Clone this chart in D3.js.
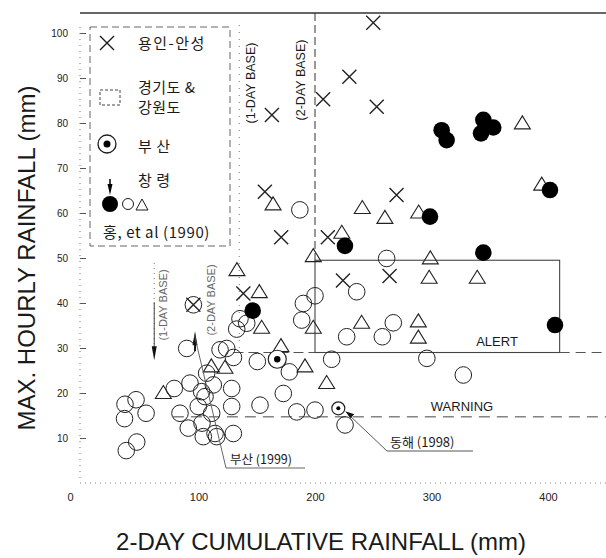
<!DOCTYPE html>
<html><head><meta charset="utf-8">
<script src="https://cdn.jsdelivr.net/npm/d3@7"></script>
<style>body{margin:0;background:#fff}svg{display:block}</style>
</head><body>
<svg id="c" width="606" height="558"></svg>
<script>
// ---- data (x = 2-day cumulative rainfall mm, y = max hourly rainfall mm) ----
const xTicks = [0, 100, 200, 300, 400];
const yTicks = [10, 20, 30, 40, 50, 60, 70, 80, 90, 100];

const crosses = [[250,102.3],[229.5,90.3],[207,85.3],[253,83.6],[163,81.8],[157,64.7],[171,54.6],[211,54.6],[270,64],[224,45],[264,46],[138.5,42.1],[95.6,39.6]];
const filledCircles = [[308.7,78.4],[313,76.2],[344.5,80.7],[353,79],[342.5,77.7],[401.7,65.1],[298.7,59.2],[225.7,52.7],[344.5,51.2],[406,35.1],[146.5,38.3]];
const triangles = [[378,79.8],[394.6,66.2],[164,61.8],[240.6,61],[260,58.8],[289,60],[223,55.5],[198.5,50.3],[299,49.8],[298,45.5],[339.3,45.5],[133,47.2],[152.2,42.3],[154.2,34.4],[198.5,34.4],[240,35.5],[288.7,35.8],[288.7,32.2],[170.8,30.3],[191.4,25.8],[210,22.1],[69.8,19.9],[111,25.8],[122.7,25.5]];
const openCircles = [[187,60.7],[261.5,49.9],[235.8,42.5],[200,41.6],[190,39.9],[188.6,36.2],[141.4,35.5],[132.8,34.2],[135.6,36.5],[227.2,32.5],[257.8,32.5],[267.2,35.6],[124.2,29.9],[130,27.9],[150.5,27],[178,24.7],[214.3,27.5],[296,27.7],[327.3,24],[172.8,19.9],[152.8,17.3],[128.5,21],[128.5,17],[184.3,15.8],[200,16.2],[225.8,12.9],[129.9,11],[114.2,11],[95.6,39.6],
  [36.9,17.5],[46.4,18.5],[36.5,14.3],[55,15.5],[47,9.1],[38,7.2],
  [79.2,21],[92.7,22.2],[89.9,29.9],[118.5,29.6],[84.1,15.5],[99.8,17],[105.6,19.2],[111.3,15.5],[91.2,12.2],[104.1,10.3],[115.6,10.3],[102.7,20.3],[112.7,21.8],[103,13.3],[107,24.4]];
const busan = [[167.6,27.5],[220,16.6]];
const changnyeong = [{x: 62, y: 27.3, dir: "down"}, {x: 97, y: 35.5, dir: "up"}];

const baseOneDay = 135, baseTwoDay = 200;
const alertLevel = 29, warningLevel = 14.7, boxTop = 49.5, boxRight = 410;
const alertStart = 130, warningStart = 78;
const legendLabels = ["용인-안성", "경기도 &", "강원도", "부 산", "창 령", "홍, et al (1990)"];
const annotations = [{text: "부산 (1999)", x: 95.6, y: 39.6}, {text: "동해 (1998)", x: 220, y: 16.6}];

// ---- drawing ----
const W = 606, H = 558;
const svg = d3.select("#c");
const x = d3.scaleLinear().domain([0, 400]).range([82, 548]);
const y = d3.scaleLinear().domain([0, 100]).range([483, 33]);
const ink = "#1a1a1a";
const latin = "'Liberation Sans', Arial, sans-serif";
const kr = "'Noto Sans CJK KR', sans-serif";

// top frame line
svg.append("line").attr("x1", 80).attr("x2", W).attr("y1", 13).attr("y2", 13)
  .attr("stroke", "#333").attr("stroke-width", 1.6);

// axes
const yAx = svg.append("g").attr("transform", "translate(80,0)")
  .call(d3.axisLeft(y).tickValues(yTicks).tickSize(-6).tickPadding(12).tickSizeOuter(0));
yAx.select(".domain").remove();
yAx.selectAll(".tick line").attr("stroke", "#555");
yAx.selectAll("text").attr("font-family", latin).attr("font-size", 10).attr("fill", "#222");
svg.append("line").attr("x1", 80).attr("x2", 80).attr("y1", 27).attr("y2", y(0))
  .attr("stroke", "#777").attr("stroke-dasharray", "1,5");

const xAx = svg.append("g").attr("transform", `translate(0,${y(0)})`)
  .call(d3.axisBottom(x).tickValues(xTicks).tickSize(0).tickPadding(10));
xAx.select(".domain").remove();
xAx.selectAll("text").attr("font-family", latin).attr("font-size", 11).attr("fill", "#222")
  .attr("dx", d => d === 0 ? -12 : 0);
svg.append("line").attr("x1", 80).attr("x2", W).attr("y1", y(0)).attr("y2", y(0))
  .attr("stroke", "#888").attr("stroke-dasharray", "1,4");

// titles
svg.append("text").attr("transform", "translate(26,258) rotate(-90)")
  .attr("text-anchor", "middle").attr("dominant-baseline", "central")
  .attr("font-family", latin).attr("font-size", 24).attr("fill", ink)
  .text("MAX. HOURLY RAINFALL (mm)");
svg.append("text").attr("x", 321).attr("y", 550).attr("text-anchor", "middle")
  .attr("font-family", latin).attr("font-size", 24).attr("fill", ink)
  .text("2-DAY CUMULATIVE RAINFALL (mm)");

// threshold lines
svg.append("line").attr("x1", x(baseTwoDay)).attr("x2", x(baseTwoDay)).attr("y1", 13).attr("y2", y(boxTop))
  .attr("stroke", "#333").attr("stroke-dasharray", "8,4");
svg.append("line").attr("x1", x(baseOneDay)).attr("x2", x(baseOneDay)).attr("y1", 25).attr("y2", y(alertLevel))
  .attr("stroke", "#777").attr("stroke-dasharray", "1,6");
svg.append("rect").attr("x", x(baseTwoDay)).attr("y", y(boxTop))
  .attr("width", x(boxRight) - x(baseTwoDay)).attr("height", y(alertLevel) - y(boxTop))
  .attr("fill", "none").attr("stroke", "#444").attr("stroke-width", 1.1);
svg.append("line").attr("x1", x(alertStart)).attr("x2", x(baseTwoDay)).attr("y1", y(alertLevel)).attr("y2", y(alertLevel))
  .attr("stroke", "#555").attr("stroke-dasharray", "10,5");
svg.append("line").attr("x1", x(boxRight)).attr("x2", W).attr("y1", y(alertLevel)).attr("y2", y(alertLevel))
  .attr("stroke", "#555").attr("stroke-dasharray", "10,6");
svg.append("line").attr("x1", x(warningStart)).attr("x2", W).attr("y1", y(warningLevel)).attr("y2", y(warningLevel))
  .attr("stroke", "#444").attr("stroke-dasharray", "11,7");
svg.append("text").attr("x", 497).attr("y", 346).attr("text-anchor", "middle")
  .attr("font-family", latin).attr("font-size", 13).attr("fill", ink).text("ALERT");
svg.append("text").attr("x", 462).attr("y", 411).attr("text-anchor", "middle")
  .attr("font-family", latin).attr("font-size", 13).attr("fill", ink).text("WARNING");

function vlabel(t, px, py, fs, col) {
  svg.append("text").attr("transform", `translate(${px},${py}) rotate(-90)`)
    .attr("text-anchor", "middle").attr("dominant-baseline", "central")
    .attr("font-family", latin).attr("font-size", fs).attr("fill", col).text(t);
}
vlabel("(1-DAY BASE)", x(baseOneDay) + 12, 83, 12.5, ink);
vlabel("(2-DAY BASE)", x(baseTwoDay) - 14, 80, 12.5, ink);

// changnyeong arrows (1-day / 2-day base)
const cn0 = changnyeong[0], cn1 = changnyeong[1];
svg.append("line").attr("x1", x(cn0.x)).attr("x2", x(cn0.x)).attr("y1", 263).attr("y2", y(cn0.y) - 6)
  .attr("stroke", "#777").attr("stroke-dasharray", "1,4");
svg.append("line").attr("x1", x(cn0.x)).attr("x2", x(cn0.x)).attr("y1", y(cn0.y) - 58).attr("y2", y(cn0.y) - 8)
  .attr("stroke", "#444").attr("stroke-width", 1);
svg.append("path").attr("d", `M${x(cn0.x) - 2.5},${y(cn0.y) - 14}L${x(cn0.x) + 2.5},${y(cn0.y) - 14}L${x(cn0.x)},${y(cn0.y)}Z`).attr("fill", "#111");
vlabel("(1-DAY BASE)", x(cn0.x) + 9, 305, 11, "#666");
svg.append("path").attr("d", `M${x(cn1.x) - 2.5},${y(cn1.y) + 22}L${x(cn1.x) + 2.5},${y(cn1.y) + 22}L${x(cn1.x)},${y(cn1.y) + 8}Z`).attr("fill", "#111");
svg.append("line").attr("x1", x(cn1.x)).attr("x2", x(cn1.x)).attr("y1", y(cn1.y) + 20).attr("y2", y(cn1.y) + 28)
  .attr("stroke", "#111").attr("stroke-width", 2);
vlabel("(2-DAY BASE)", x(cn1.x) + 16, 300, 11, "#666");

// markers
const stroke = "#222";
svg.append("g").selectAll("circle").data(openCircles).join("circle")
  .attr("cx", d => x(d[0])).attr("cy", d => y(d[1])).attr("r", 8.3)
  .attr("fill", "none").attr("stroke", stroke).attr("stroke-width", 1);
svg.append("g").selectAll("path").data(triangles).join("path")
  .attr("transform", d => `translate(${x(d[0])},${y(d[1])})`)
  .attr("d", "M0,-8L8,5L-8,5Z").attr("fill", "none").attr("stroke", stroke).attr("stroke-width", 1.1);
svg.append("g").selectAll("path").data(crosses).join("path")
  .attr("transform", d => `translate(${x(d[0])},${y(d[1])})`)
  .attr("d", "M-7,-7L7,7M7,-7L-7,7").attr("fill", "none").attr("stroke", stroke).attr("stroke-width", 1.4);
svg.append("g").selectAll("circle").data(filledCircles).join("circle")
  .attr("cx", d => x(d[0])).attr("cy", d => y(d[1])).attr("r", 8.3).attr("fill", "#000");
const bg = svg.append("g").selectAll("g").data(busan).join("g")
  .attr("transform", d => `translate(${x(d[0])},${y(d[1])})`);
bg.append("circle").attr("r", (d, i) => i === 0 ? 9 : 6.5).attr("fill", "#fff").attr("stroke", stroke).attr("stroke-width", 1.2);
bg.append("circle").attr("r", (d, i) => i === 0 ? 3.2 : 2).attr("fill", "#000");

// annotations with leader lines
const a0 = annotations[0], a1 = annotations[1];
svg.append("path").attr("d", `M${x(a0.x) + 1},${y(a0.y) + 30}L226,468L305,468`)
  .attr("fill", "none").attr("stroke", "#555").attr("stroke-width", 0.9);
svg.append("text").attr("x", 230).attr("y", 464).attr("font-family", kr).attr("font-size", 12.5).attr("fill", ink).text(a0.text);
svg.append("path").attr("d", `M${x(a1.x) + 10},${y(a1.y) + 6}L387,451L473,451`)
  .attr("fill", "none").attr("stroke", "#444").attr("stroke-width", 0.9);
svg.append("path").attr("d", `M${x(a1.x) + 7},${y(a1.y) + 3}l9,3l-4,4Z`).attr("fill", "#111");
svg.append("text").attr("x", 390).attr("y", 447).attr("font-family", kr).attr("font-size", 13).attr("fill", ink).text(a1.text);

// legend
const lg = svg.append("g");
lg.append("rect").attr("x", 90).attr("y", 27).attr("width", 140).attr("height", 219)
  .attr("fill", "none").attr("stroke", "#555").attr("stroke-dasharray", "7,4").attr("stroke-width", 0.9);
lg.append("path").attr("transform", "translate(107,43)").attr("d", "M-7,-7L7,7M7,-7L-7,7")
  .attr("stroke", ink).attr("stroke-width", 1.4);
lg.append("rect").attr("x", 100).attr("y", 90).attr("width", 20).attr("height", 15)
  .attr("fill", "none").attr("stroke", "#444").attr("stroke-dasharray", "3,2");
lg.append("circle").attr("cx", 107).attr("cy", 144).attr("r", 9).attr("fill", "none").attr("stroke", ink).attr("stroke-width", 1.3);
lg.append("circle").attr("cx", 107).attr("cy", 144).attr("r", 3.5).attr("fill", "#000");
lg.append("line").attr("x1", 110).attr("x2", 110).attr("y1", 179).attr("y2", 190).attr("stroke", "#000").attr("stroke-width", 1.5);
lg.append("path").attr("d", "M107.5,184L112.5,184L110,195Z").attr("fill", "#000");
lg.append("circle").attr("cx", 110).attr("cy", 204).attr("r", 8).attr("fill", "#000");
lg.append("circle").attr("cx", 128).attr("cy", 204).attr("r", 5.5).attr("fill", "none").attr("stroke", ink);
lg.append("path").attr("transform", "translate(142,205)").attr("d", "M0,-6L6,5L-6,5Z").attr("fill", "none").attr("stroke", ink);
const lgPos = [[138, 49, 1.5], [138, 93, 0.5], [138, 113, 0.5], [138, 152, 0.5], [138, 186, 0.5], [103, 238, 0.6]];
lg.selectAll("text").data(legendLabels).join("text")
  .attr("x", (d, i) => lgPos[i][0]).attr("y", (d, i) => lgPos[i][1])
  .attr("letter-spacing", (d, i) => lgPos[i][2])
  .attr("font-family", kr).attr("font-size", 15).attr("fill", ink).text(d => d);
</script>
</body></html>
